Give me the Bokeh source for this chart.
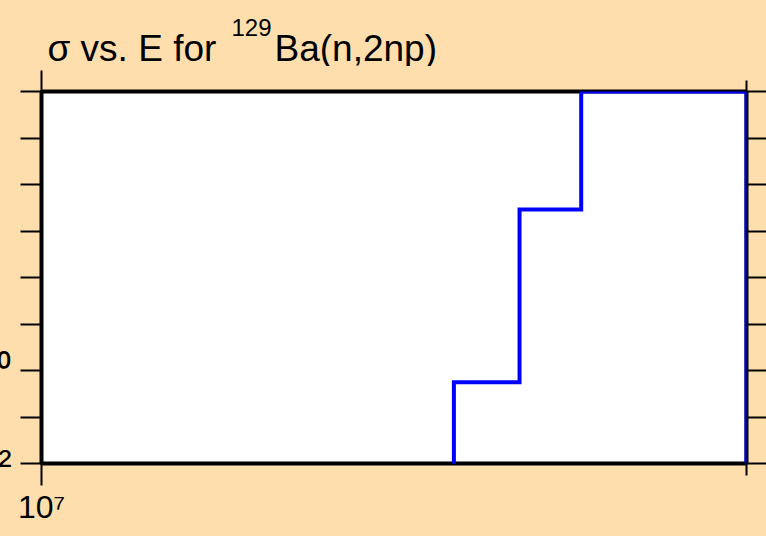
from bokeh.plotting import figure
from bokeh.layouts import column
from bokeh.models import FixedTicker, LogAxis, CustomJSTickFormatter, Range1d
from bokeh.core.properties import value
from bokeh.embed import file_html
from bokeh.resources import INLINE

# ---- data ----
energy_edges = [1.5e7, 1.6e7, 1.7e7, 2.0e7]      # eV, bin edges of the step curve
sigma_values = [0.56, 2900.0, 1.0e6]             # value in each bin
sigma_outside = 1.0e-4                           # below threshold / beyond last edge

x_limits = (1.0e7, 2.0e7)
y_limits = (1.0e-2, 1.0e6)

x_major_ticks = [1.0e7]
x_minor_ticks = [2.0e7]
x_tick_labels = ["10\u2077"]
y_major_ticks = [1.0e-2, 1.0e0]
y_minor_ticks = [1e-1, 1e1, 1e2, 1e3, 1e4, 1e5, 1e6]
y_tick_labels = ["10\u207b\u00b2", "10\u2070"]

title_parts = ["\u03c3 vs. E for", "129", "Ba(n,2np)"]

BG = "#FFDEAD"
FONT = "Liberation Sans"
SHIFT = 90  # canvas shifted left so that the left tick labels are cut like in the reference

# ---- build step path from the bins ----
xs = [energy_edges[0]]
ys = [sigma_outside]
for i, v in enumerate(sigma_values):
    xs += [energy_edges[i], energy_edges[i + 1]]
    ys += [v, v]
xs.append(energy_edges[-1])
ys.append(sigma_outside)

W = 766 + SHIFT
H = 536
TH = 66                               # height of the title strip
FRAME_LEFT, FRAME_TOP, FRAME_BOTTOM = 41, 91, 463   # frame edges on the page

# ---- title strip: its own small figure, data units = page pixels ----
t = figure(width=W, height=TH, x_range=Range1d(-SHIFT, 766), y_range=Range1d(TH, 0),
           output_backend="svg", toolbar_location=None,
           x_axis_location=None, y_axis_location=None,
           min_border=0)
t.grid.visible = False
t.outline_line_color = None
t.background_fill_color = BG
t.border_fill_color = BG

def title_piece(text, page_x, page_baseline, size):
    t.text(x=[page_x], y=[page_baseline], text=[text],
           text_font=value(FONT), text_font_size=value(size),
           text_baseline="alphabetic", text_align="left", text_color="black")

title_piece(title_parts[0], 47, 48, "37px")
title_piece(title_parts[1], 231, 27, "24px")
title_piece(title_parts[2], 274, 48, "37px")

# ---- main plot ----
p = figure(width=W, height=H - TH, x_axis_type="log", y_axis_type="log",
           x_range=x_limits, y_range=y_limits,
           output_backend="svg", toolbar_location=None,
           min_border_left=FRAME_LEFT + SHIFT, min_border_right=20,
           min_border_top=FRAME_TOP - TH, min_border_bottom=H - FRAME_BOTTOM)
p.background_fill_color = "white"
p.border_fill_color = BG
p.outline_line_color = "black"
p.outline_line_width = 4
p.grid.visible = False

# keep each figure's frame independent inside the column
for fig in (t, p):
    if "frame_align" in fig.properties():
        fig.frame_align = False

def tick_fmt(tick_values, tick_labels):
    return CustomJSTickFormatter(args=dict(tvals=tick_values, tlabels=tick_labels), code="""
        for (let i = 0; i < tvals.length; i++) {
            if (Math.abs(Math.log10(tvals[i]) - Math.log10(tick)) < 1e-6) return tlabels[i];
        }
        return "";
    """)

empty_fmt = CustomJSTickFormatter(code="return '';")

xt = FixedTicker(ticks=x_major_ticks, minor_ticks=x_minor_ticks)
yt = FixedTicker(ticks=y_major_ticks, minor_ticks=y_minor_ticks)

def style_axis(ax, major_out, minor_out):
    ax.axis_line_color = None
    ax.major_tick_in = 0
    ax.minor_tick_in = 0
    ax.major_tick_out = major_out
    ax.minor_tick_out = minor_out
    ax.major_tick_line_width = 2
    ax.minor_tick_line_width = 2
    ax.major_tick_line_color = "black"
    ax.minor_tick_line_color = "black"
    ax.major_label_text_font = FONT
    ax.major_label_text_color = "black"

xb = p.xaxis[0]
xb.ticker = xt
xb.formatter = tick_fmt(x_major_ticks, x_tick_labels)
style_axis(xb, 22, 12)
xb.major_label_text_font_size = "32px"
xb.major_label_standoff = 3

yl = p.yaxis[0]
yl.ticker = yt
yl.formatter = tick_fmt(y_major_ticks, y_tick_labels)
style_axis(yl, 21, 21)
yl.major_label_text_font_size = "40px"
yl.major_label_standoff = 9

yr = LogAxis(ticker=yt, formatter=empty_fmt)
style_axis(yr, 20, 20)
yr.major_label_standoff = 0
p.add_layout(yr, "right")

xa = LogAxis(ticker=xt, formatter=empty_fmt)
style_axis(xa, 21, 11)
xa.major_label_standoff = 0
xa.major_label_text_font_size = "1px"
p.add_layout(xa, "above")

p.line(xs, ys, line_color="#0000FF", line_width=4, line_join="miter")

layout = column(t, p, spacing=0)

html = file_html(layout, INLINE, title="sigma vs E")
css = ("<style>html,body{margin:0;padding:0;overflow:hidden;background:%s;}"
       "body{margin-left:-%dpx;}</style></head>" % (BG, SHIFT))
html = html.replace("</head>", css, 1)
open("out.html", "w").write(html)
